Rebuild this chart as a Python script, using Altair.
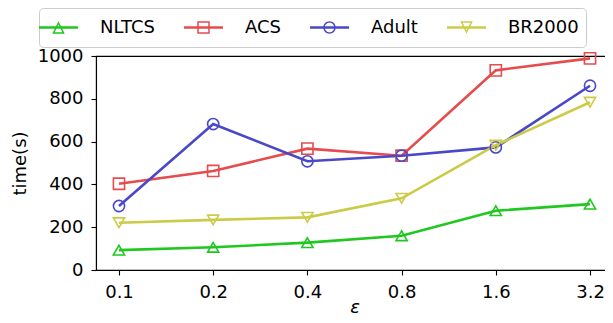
import altair as alt
import pandas as pd

eps = ["0.1", "0.2", "0.4", "0.8", "1.6", "3.2"]
series_names = ["NLTCS", "ACS", "Adult", "BR2000"]
nltcs = [93, 106, 128, 160, 277, 308]
acs = [403, 463, 567, 534, 933, 989]
adult = [299, 682, 508, 534, 573, 861]
br2000 = [221, 234, 246, 335, 583, 784]
colors = ["#1ec81e", "#e64b4d", "#4848c8", "#cbcb48"]
y_ticks = [0, 200, 400, 600, 800, 1000]

values = {"NLTCS": nltcs, "ACS": acs, "Adult": adult, "BR2000": br2000}
rows = []
for name in series_names:
    for e, v in zip(eps, values[name]):
        rows.append({"eps": e, "time": v, "series": name})
df = pd.DataFrame(rows)

FONT = "DejaVu Sans"

# legend symbols: line segment + hollow marker (ring), in unit coords (1 unit = sqrt(size)/2 px)
LINE = "M0,-1L0,-1M0,1L0,1M-1.56,-0.108H1.56V0.108H-1.56Z"
tri_up = "M0,-0.5L0.5,0.5L-0.5,0.5ZM0,-0.232L-0.306,0.38L0.306,0.38Z"
square = "M-0.5,-0.5H0.5V0.5H-0.5ZM-0.38,-0.38V0.38H0.38V-0.38Z"
circle = ("M-0.5,0A0.5,0.5 0 1,1 0.5,0A0.5,0.5 0 1,1 -0.5,0Z"
          "M-0.38,0A0.38,0.38 0 1,0 0.38,0A0.38,0.38 0 1,0 -0.38,0Z")
tri_down = "M0,0.5L-0.5,-0.5L0.5,-0.5ZM0,0.232L0.306,-0.38L-0.306,-0.38Z"
legend_paths = [LINE + tri_up, LINE + square, LINE + circle, LINE + tri_down]
plot_shapes = ["triangle-up", "square", "circle", "triangle-down"]

# stroke scale listed in a different (sorted) order so its legend-less scale
# is not merged with the legend scale
sorted_names = sorted(series_names)
sorted_colors = [colors[series_names.index(n)] for n in sorted_names]

x_scale = alt.Scale(type="point", padding=0.244)
x_bottom = alt.X("eps:O", sort=eps, scale=x_scale,
                 axis=alt.Axis(title="ε", labelAngle=0, titleFontStyle="italic",
                               titleY=42, titleBaseline="alphabetic"))
y_enc = alt.Y("time:Q", scale=alt.Scale(domain=[0, 1000], nice=False),
              axis=alt.Axis(title="time(s)", values=y_ticks, format="d",
                            titlePadding=8))
stroke_scale = alt.Scale(domain=sorted_names, range=sorted_colors)

base = alt.Chart(df)

lines = base.mark_line(strokeWidth=2.6).encode(
    x=x_bottom, y=y_enc,
    stroke=alt.Stroke("series:N", scale=stroke_scale, legend=None),
    detail="series:N",
)

point_layers = []
for name, shp in zip(series_names, plot_shapes):
    point_layers.append(
        base.transform_filter(alt.datum.series == name)
        .mark_point(shape=shp, filled=False, size=125, strokeWidth=1.6, opacity=1)
        .encode(x=x_bottom, y=y_enc,
                stroke=alt.Stroke("series:N", scale=stroke_scale, legend=None))
    )

leg_props = dict(
    title=None, orient="none", legendX=-57, legendY=-48,
    direction="horizontal", columns=4,
    labelFont=FONT, labelFontSize=18, labelColor="black",
    symbolSize=625, symbolStrokeWidth=0, symbolOpacity=1,
    labelOffset=29, columnPadding=29, padding=7,
    fillColor="white", strokeColor="#cccccc", cornerRadius=4,
    labelLimit=300,
)

legend_layer = base.transform_filter("false").mark_point(filled=True, size=625).encode(
    x=x_bottom, y=y_enc,
    fill=alt.Fill("series:N", scale=alt.Scale(domain=series_names, range=colors),
                  legend=alt.Legend(**leg_props)),
    shape=alt.Shape("series:N",
                    scale=alt.Scale(domain=series_names, range=legend_paths),
                    legend=alt.Legend(**leg_props)),
)

chart = alt.layer(lines, *point_layers, legend_layer).properties(
    width=517, height=214,
    autosize=alt.AutoSizeParams(type="none"),
    padding={"left": 88, "top": 48, "right": -8, "bottom": 45},
).configure_view(
    stroke="black", strokeWidth=1.1
).configure_axis(
    grid=False, labelFont=FONT, labelFontSize=18, labelColor="black",
    titleFont=FONT, titleFontSize=18, titleFontWeight="normal", titleColor="black",
    domainColor="black", domainWidth=1.1, tickColor="black", tickWidth=1.1,
    tickSize=5, labelPadding=8,
)

chart.save("out.html", embed_options={"renderer": "svg", "actions": False})
